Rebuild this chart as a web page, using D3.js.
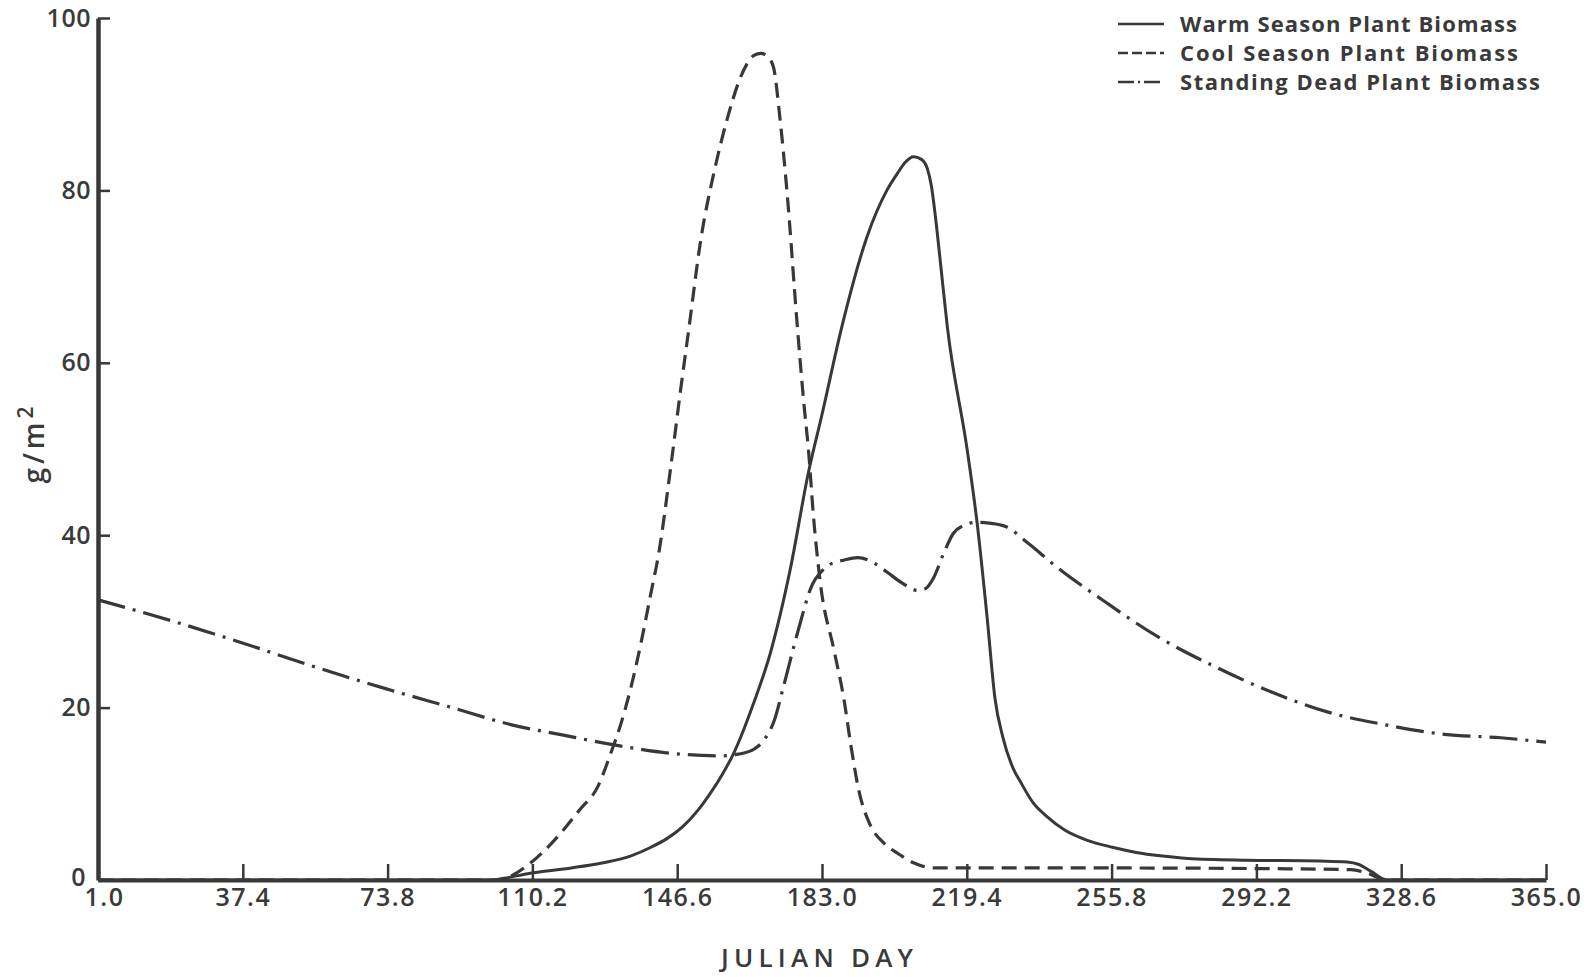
<!DOCTYPE html>
<html>
<head>
<meta charset="utf-8">
<script src="https://cdn.jsdelivr.net/npm/d3@7"></script>
<style>
  html, body { margin: 0; padding: 0; background: #fff; }
  svg { display: block; }
  text { font-family: "Open Sans", "DejaVu Sans", sans-serif; fill: #3a3a3a; }
</style>
</head>
<body>
<svg id="chart" width="1590" height="977"></svg>
<script>
// ---- data ----
const xTicks = [1.0, 37.4, 73.8, 110.2, 146.6, 183.0, 219.4, 255.8, 292.2, 328.6, 365.0];
const yTicks = [0, 20, 40, 60, 80, 100];
const seriesNames = ["Warm Season Plant Biomass", "Cool Season Plant Biomass", "Standing Dead Plant Biomass"];

const warmDays = [1, 100, 103, 110, 120, 128, 135, 140, 144, 148, 152, 155, 158, 160.8, 165.8, 170, 175, 179.6, 183, 188, 194.3, 199.3, 202, 204, 206, 208, 209.5, 210.5, 211.5, 212.8, 214.5, 219.5, 222, 224.5, 226.5, 228.5, 231, 233, 236, 239.7, 244, 249.7, 256, 262, 268, 275, 290, 308, 315, 318, 321, 325, 365];
const warmVals = [0, 0, 0.2, 0.8, 1.4, 2.0, 2.8, 3.8, 4.8, 6.2, 8.2, 10.1, 12.3, 14.7, 20.5, 26.3, 36.0, 47.3, 54.0, 64.2, 74.6, 80.0, 82.0, 83.3, 83.9, 83.6, 82.5, 80.5, 77.0, 71.5, 64.2, 49.9, 41.4, 30.5, 21.0, 16.5, 13.0, 11.3, 9.0, 7.3, 5.8, 4.6, 3.8, 3.2, 2.8, 2.5, 2.3, 2.2, 2.1, 1.8, 1.0, 0, 0];

const coolDays = [1, 102, 105, 109.8, 116.5, 122, 126.6, 129.9, 132.5, 135, 137.5, 140, 142, 145, 147.5, 149.6, 152.5, 156, 159.3, 162, 164.3, 166, 167.6, 169.3, 170.8, 172.4, 174.3, 176.8, 178.5, 179.6, 180.8, 182.6, 186, 188.5, 190.3, 192.2, 195, 198.5, 202, 206, 211, 250, 300, 316, 320, 325, 365];
const coolVals = [0, 0, 0.5, 2.0, 5.0, 8.1, 10.8, 14.7, 18.2, 22.4, 27.5, 33.3, 38.0, 48.0, 57.0, 64.2, 74.2, 82.4, 88.5, 92.5, 94.8, 95.7, 95.9, 95.5, 94.3, 88.5, 79.3, 64.2, 55.0, 49.9, 42.5, 34.4, 26.7, 21.0, 15.5, 10.5, 6.5, 4.3, 3.1, 2.0, 1.4, 1.4, 1.3, 1.2, 0.8, 0, 0];

const deadDays = [1, 20, 37.3, 55, 73.3, 90, 105, 118, 130.4, 145, 157.8, 162, 166, 168.5, 171, 173.3, 176.8, 180.7, 182.5, 185, 188.4, 192, 196, 199.4, 203, 207, 209, 211, 213.5, 216, 219, 222, 225, 229.2, 235, 241.5, 254.7, 267.5, 282, 296, 310, 324.7, 339.5, 353.6, 365];
const deadVals = [32.5, 30.0, 27.5, 24.8, 22.2, 20.0, 18.0, 16.8, 15.7, 14.7, 14.4, 14.6, 15.2, 16.3, 18.5, 22.4, 28.6, 34.4, 35.6, 36.6, 37.1, 37.4, 36.8, 35.7, 34.5, 33.6, 33.8, 35.0, 37.8, 40.2, 41.2, 41.5, 41.4, 41.0, 39.0, 36.5, 32.1, 28.2, 24.7, 21.8, 19.5, 18.0, 16.9, 16.5, 16.0];

// ---- drawing ----
const svg = d3.select("#chart");
const ink = "#383838";
const x = d3.scaleLinear().domain([1, 365]).range([98, 1546]);
const y = d3.scaleLinear().domain([0, 100]).range([880, 18]);

const line = d3.line().x(d => x(d[0])).y(d => y(d[1])).curve(d3.curveMonotoneX);
const zip = (a, b) => a.map((v, i) => [v, b[i]]);

const styles = [
  { dash: null, width: 3 },
  { dash: "15 8", width: 3.2 },
  { dash: "28 8 3 8", width: 3.2 }
];
const series = [zip(warmDays, warmVals), zip(coolDays, coolVals), zip(deadDays, deadVals)];

series.forEach((s, i) => {
  svg.append("path")
    .datum(s)
    .attr("d", line)
    .attr("fill", "none")
    .attr("stroke", ink)
    .attr("stroke-width", styles[i].width)
    .attr("stroke-dasharray", styles[i].dash)
    .attr("stroke-linejoin", "round");
});

// x axis
const xAxis = d3.axisBottom(x)
  .tickValues(xTicks)
  .tickFormat(d3.format(".1f"))
  .tickSizeInner(-16)
  .tickSizeOuter(0)
  .tickPadding(8);
const gx = svg.append("g").attr("transform", `translate(0,${y(0)})`).call(xAxis);
gx.select(".domain").attr("stroke", ink).attr("stroke-width", 4);
gx.selectAll(".tick line").attr("stroke", ink).attr("stroke-width", 2.5);
gx.selectAll(".tick text")
  .attr("fill", ink)
  .style("font-size", "25px")
  .style("font-weight", "600")
  .style("letter-spacing", "1.5px");
gx.selectAll(".tick text").filter(d => d === 1.0).attr("dx", 6);

// y axis
const yAxis = d3.axisLeft(y)
  .tickValues(yTicks)
  .tickSizeInner(-12)
  .tickSizeOuter(0)
  .tickPadding(7);
const gy = svg.append("g").attr("transform", `translate(${x(1)},0)`).call(yAxis);
gy.select(".domain").attr("stroke", ink).attr("stroke-width", 4.5);
gy.selectAll(".tick line").attr("stroke", ink).attr("stroke-width", 2.5);
gy.selectAll(".tick text")
  .attr("fill", ink)
  .style("font-size", "25px")
  .style("font-weight", "600")
  .style("letter-spacing", "0.5px");
gy.selectAll(".tick text").filter(d => d === 0).attr("x", -12).attr("dy", "0.2em");

// axis titles
svg.append("text")
  .attr("x", 817).attr("y", 967)
  .attr("text-anchor", "middle")
  .attr("textLength", 192).attr("lengthAdjust", "spacing")
  .style("font-size", "26px").style("font-weight", "600")
  .attr("fill", ink)
  .text("JULIAN DAY");

const yl = svg.append("text")
  .attr("transform", "translate(44,443) rotate(-90)")
  .attr("text-anchor", "middle")
  .style("font-size", "28px").style("font-weight", "600")
  .style("letter-spacing", "4px")
  .attr("fill", ink);
yl.append("tspan").text("g/m");
yl.append("tspan").attr("dy", -11).style("font-size", "21px").text("2");

// legend
const legendY = [24, 53, 82];
const legendW = [337, 338, 360];
seriesNames.forEach((name, i) => {
  svg.append("line")
    .attr("x1", 1118).attr("x2", 1164)
    .attr("y1", legendY[i]).attr("y2", legendY[i])
    .attr("stroke", ink)
    .attr("stroke-width", 2.5)
    .attr("stroke-dasharray", i === 0 ? null : (i === 1 ? "10 4" : "16 4 2 4"));
  svg.append("text")
    .attr("x", 1180).attr("y", legendY[i] + 8)
    .attr("textLength", legendW[i]).attr("lengthAdjust", "spacing")
    .style("font-size", "22px").style("font-weight", "700")
    .attr("fill", ink)
    .text(name);
});
</script>
</body>
</html>
